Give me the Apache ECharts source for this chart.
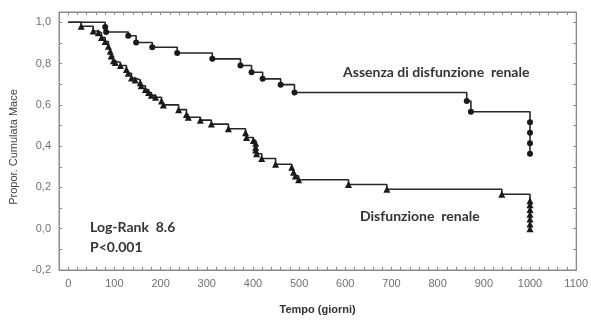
<!DOCTYPE html>
<html>
<head>
<meta charset="utf-8">
<script src="https://cdn.jsdelivr.net/npm/echarts@6/dist/echarts.min.js"></script>
<style>html,body{margin:0;padding:0;background:#fff;}#c{width:591px;height:320px;}</style>
</head>
<body>
<div id="c"></div>
<script>
// Assenza di disfunzione renale
var upperDays = [0, 80, 82, 130, 147, 182, 236, 312, 373, 397, 421, 460, 490, 863, 872, 1000, 1000, 1000, 1000];
var upperSurv = [1.0, 0.977, 0.953, 0.935, 0.902, 0.879, 0.851, 0.823, 0.791, 0.758, 0.726, 0.698, 0.660, 0.619, 0.567, 0.516, 0.465, 0.414, 0.363];
// Disfunzione renale
var lowerDays = [0, 28, 54, 65, 72, 80, 87, 91, 93, 98, 102, 113, 126, 130, 137, 145, 156, 158, 167, 174, 180, 189, 202, 206, 239, 256, 260, 286, 310, 347, 384, 386, 401, 406, 406, 406, 408, 419, 449, 484, 488, 492, 499, 607, 690, 939, 1000, 1000, 1000, 1000, 1000, 1000, 1000];
var lowerSurv = [1.0, 0.981, 0.958, 0.949, 0.926, 0.907, 0.884, 0.860, 0.837, 0.814, 0.805, 0.791, 0.772, 0.753, 0.730, 0.721, 0.707, 0.693, 0.674, 0.660, 0.647, 0.637, 0.619, 0.600, 0.577, 0.553, 0.540, 0.526, 0.507, 0.484, 0.465, 0.442, 0.428, 0.414, 0.395, 0.381, 0.363, 0.340, 0.312, 0.298, 0.274, 0.256, 0.237, 0.214, 0.191, 0.167, 0.135, 0.116, 0.093, 0.070, 0.047, 0.023, 0.0];
var seriesNames = ['Assenza di disfunzione renale', 'Disfunzione renale'];
var xTickLabels = [0, 100, 200, 300, 400, 500, 600, 700, 800, 900, 1000, 1100];
var yTickLabels = [-0.2, 0.0, 0.2, 0.4, 0.6, 0.8, 1.0];

function build(days, surv) {
  return days.map(function (d, i) {
    var item = { value: [d, surv[i]] };
    if (i === 0) item.symbol = 'none';
    return item;
  });
}
function xLabel(v) {
  return xTickLabels.indexOf(Math.round(v)) >= 0 && Math.abs(v - Math.round(v)) < 1e-6 ? String(Math.round(v)) : '';
}
function yLabel(v) {
  for (var i = 0; i < yTickLabels.length; i++) {
    if (Math.abs(v - yTickLabels[i]) < 1e-6) return yTickLabels[i].toFixed(1).replace('.', ',');
  }
  return '';
}
var axisCol = '#8a8a8a';
var chart = echarts.init(document.getElementById('c'), null, { renderer: 'canvas' });
var tickStyle = { show: true, inside: true, length: 3, lineStyle: { color: axisCol } };
var annoFont = { fontFamily: 'Lato', fontWeight: 'bold', fontSize: 14, fill: '#333' };
function anno(text, left, top) {
  return { type: 'text', left: left, top: top, style: Object.assign({ text: text }, annoFont) };
}
chart.setOption({
  animation: false,
  grid: { left: 59, top: 12, right: 14, bottom: 40, show: true, borderColor: axisCol, borderWidth: 1 },
  xAxis: [{
    type: 'value', min: -20, max: 1100, interval: 20,
    name: 'Tempo (giorni)', nameLocation: 'middle', nameGap: 34,
    nameTextStyle: { fontFamily: 'Liberation Sans', fontWeight: 'bold', fontSize: 11, color: '#333' },
    axisLine: { onZero: false, lineStyle: { color: axisCol } },
    axisTick: tickStyle,
    axisLabel: { interval: 0, formatter: xLabel, fontFamily: 'Liberation Sans', fontSize: 11, color: '#707070', margin: 8 },
    splitLine: { show: false }
  }, {
    type: 'value', position: 'top', min: -20, max: 1100, interval: 20,
    axisLine: { onZero: false, lineStyle: { color: axisCol } },
    axisTick: tickStyle, axisLabel: { show: false }, splitLine: { show: false }
  }],
  yAxis: [{
    type: 'value', min: -0.2, max: 1.05, interval: 0.1,
    name: 'Propor. Cumulata Mace', nameLocation: 'middle', nameGap: 40,
    nameTextStyle: { fontFamily: 'Liberation Sans', fontSize: 11, color: '#444', padding: [0, 12, 0, 0] },
    axisLine: { show: true, onZero: false, lineStyle: { color: axisCol } },
    axisTick: tickStyle,
    axisLabel: { formatter: yLabel, fontFamily: 'Liberation Sans', fontSize: 11, color: '#707070', margin: 8 },
    splitLine: { show: false }
  }, {
    type: 'value', position: 'right', min: -0.2, max: 1.05, interval: 0.1,
    axisLine: { show: true, onZero: false, lineStyle: { color: axisCol } },
    axisTick: tickStyle, axisLabel: { show: false }, splitLine: { show: false }
  }],
  series: [{
    name: seriesNames[0], type: 'line', step: 'end',
    data: build(upperDays, upperSurv),
    symbol: 'circle', symbolSize: 6,
    lineStyle: { color: '#262626', width: 1.6 },
    itemStyle: { color: '#1a1a1a' }
  }, {
    name: seriesNames[1], type: 'line', step: 'end',
    data: build(lowerDays, lowerSurv),
    symbol: 'triangle', symbolSize: 7,
    lineStyle: { color: '#262626', width: 1.6 },
    itemStyle: { color: '#1a1a1a' }
  }],
  graphic: [
    anno('Assenza di disfunzione  renale', 343, 65),
    anno('Disfunzione  renale', 360, 209),
    anno('Log-Rank  8.6', 90, 220),
    anno('P<0.001', 90, 240)
  ]
});
</script>
</body>
</html>
